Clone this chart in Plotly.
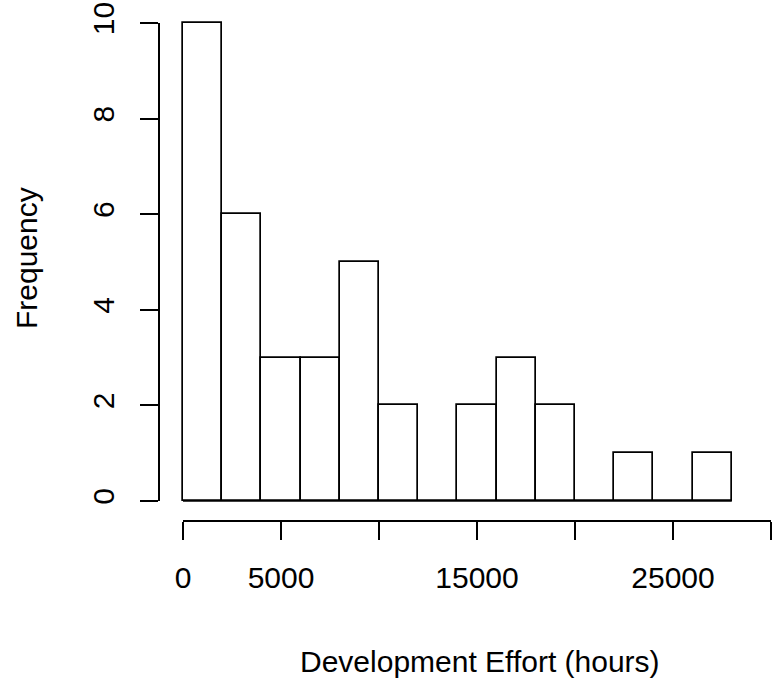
import plotly.graph_objects as go

# Histogram data (bin breaks and counts)
breaks = [0, 2000, 4000, 6000, 8000, 10000, 12000, 14000, 16000, 18000,
          20000, 22000, 24000, 26000, 28000]
counts = [10, 6, 3, 3, 5, 2, 0, 2, 3, 2, 0, 1, 0, 1]

x_tickvals = [0, 5000, 10000, 15000, 20000, 25000, 30000]
x_ticktext = ["0", "5000", "", "15000", "", "25000", ""]
y_tickvals = [0, 2, 4, 6, 8, 10]
y_ticktext = ["0", "2", "4", "6", "8", "10"]

x_title = "Development Effort (hours)"
y_title = "Frequency"

W, H = 779, 685
FONT = "Liberation Sans, Arial, sans-serif"
FS = 30
LW = 1.7

# pixel layout (R-like base graphics)
PX_X0, PX_X1 = 183, 771      # x = 0 .. 30000
PX_Y0, PX_Y1 = 501, 23       # y = 0 .. 10
PX_XAXIS = 521               # x axis line position
PX_YAXIS = 159               # y axis line position
X_LO, X_HI = 0, 30000
Y_LO, Y_HI = 0, 10

sx = (PX_X1 - PX_X0) / (X_HI - X_LO)
sy = (PX_Y0 - PX_Y1) / (Y_HI - Y_LO)
# data axes for the bars: larger domain so outlines are not clipped
bx_range = [X_LO - (PX_X0 - PX_YAXIS) / sx, X_HI + (W - PX_X1) / sx]
by_range = [Y_LO - (PX_XAXIS - PX_Y0) / sy, Y_HI + (PX_Y1 - 0) / sy]

centers = [(breaks[i] + breaks[i + 1]) / 2 for i in range(len(counts))]
widths = [breaks[i + 1] - breaks[i] for i in range(len(counts))]

fig = go.Figure()
fig.add_trace(go.Bar(
    x=centers, y=counts, width=widths,
    marker=dict(color="white", line=dict(color="black", width=LW)),
    hoverinfo="skip", showlegend=False,
))
# empty trace so the display axes get a subplot
fig.add_trace(go.Scatter(x=[None], y=[None], xaxis="x2", yaxis="y2",
                         showlegend=False, hoverinfo="skip"))

# baseline (R draws zero-height bins as a line)
fig.add_shape(type="line", xref="x", yref="y",
              x0=breaks[0], x1=breaks[-1], y0=0, y1=0,
              line=dict(color="black", width=LW))

hidden = dict(showline=False, showticklabels=False, ticks="",
              showgrid=False, zeroline=False, automargin=False, fixedrange=True)

fig.update_layout(
    width=W, height=H,
    margin=dict(l=0, r=0, t=0, b=0),
    paper_bgcolor="white", plot_bgcolor="rgba(0,0,0,0)",
    font=dict(family=FONT, size=FS, color="black"),
    bargap=0,
    xaxis=dict(domain=[PX_YAXIS / W, 1], range=bx_range, anchor="y", **hidden),
    yaxis=dict(domain=[1 - PX_XAXIS / H, 1], range=by_range, anchor="x", **hidden),
    xaxis2=dict(
        domain=[PX_X0 / W, PX_X1 / W], range=[X_LO, X_HI],
        anchor="free", position=1 - PX_XAXIS / H,
        showline=True, linecolor="black", linewidth=LW,
        ticks="outside", ticklen=18, tickwidth=LW, tickcolor="black",
        tickvals=x_tickvals, ticktext=x_ticktext, ticklabelstandoff=12,
        tickfont=dict(family=FONT, size=FS, color="black"),
        showgrid=False, zeroline=False, automargin=False,
    ),
    yaxis2=dict(
        domain=[1 - PX_Y0 / H, 1 - PX_Y1 / H], range=[Y_LO, Y_HI],
        anchor="free", position=PX_YAXIS / W,
        showline=True, linecolor="black", linewidth=LW,
        ticks="outside", ticklen=18, tickwidth=LW, tickcolor="black",
        tickvals=y_tickvals, ticktext=y_ticktext, tickangle=-90,
        ticklabelstandoff=14,
        tickfont=dict(family=FONT, size=FS, color="black"),
        showgrid=False, zeroline=False, automargin=False,
    ),
    annotations=[
        dict(text=x_title, xref="paper", yref="paper",
             x=480 / W, y=1 - 661 / H, xanchor="center", yanchor="middle",
             showarrow=False, font=dict(family=FONT, size=FS, color="black")),
        dict(text=y_title, xref="paper", yref="paper",
             x=26 / W, y=1 - 258 / H, xanchor="center", yanchor="middle",
             textangle=-90, showarrow=False,
             font=dict(family=FONT, size=FS, color="black")),
    ],
)

fig.write_html("out.html")
